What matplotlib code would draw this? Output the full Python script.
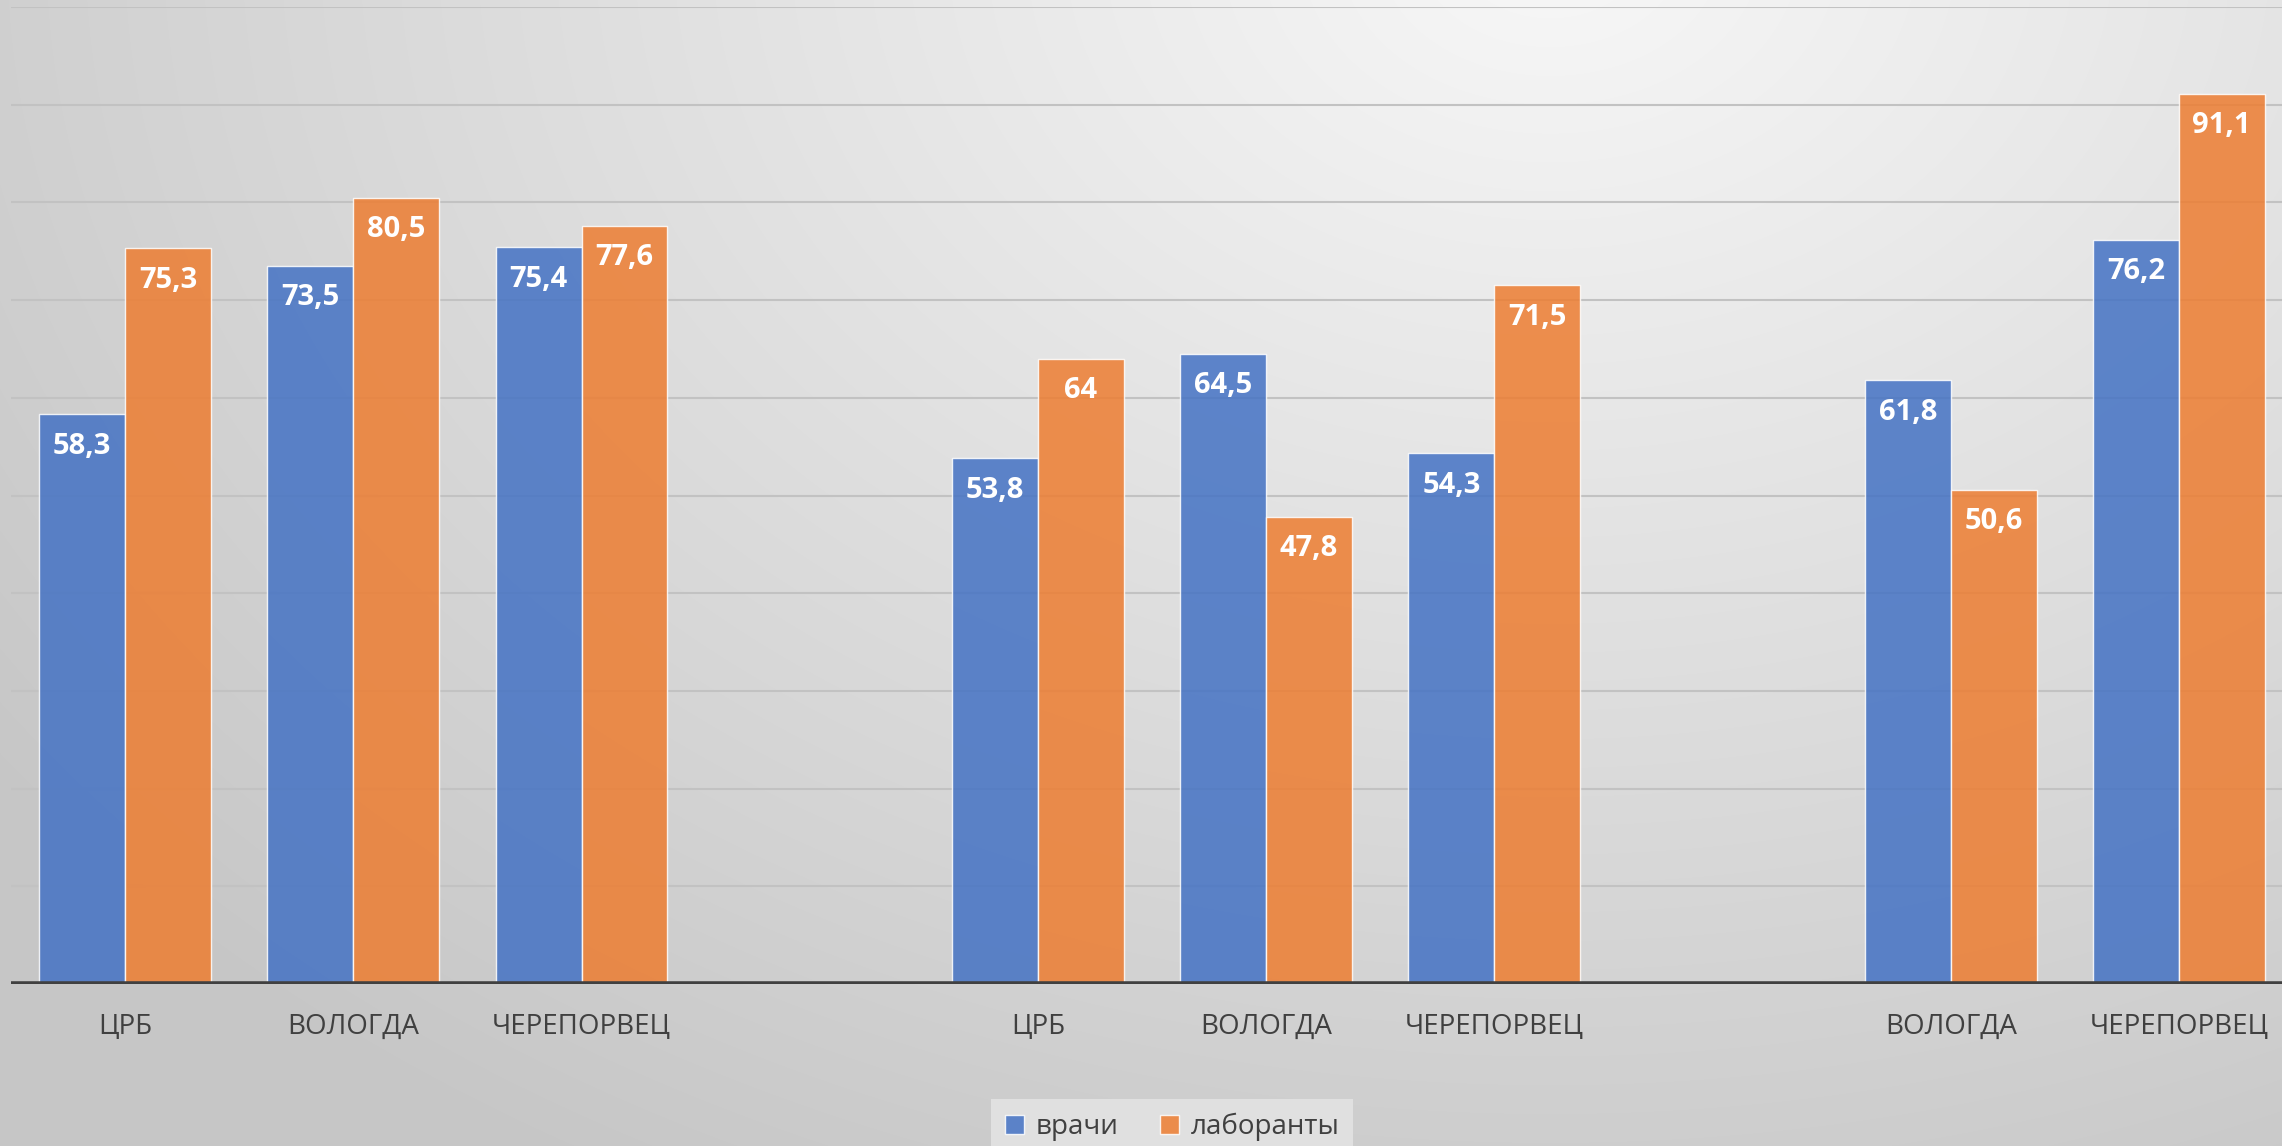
import matplotlib.pyplot as plt
import numpy as np

categorias = ['ЦРБ', 'ВОЛОГДА', 'ЧЕРЕПОРВЕЦ', '', 'ЦРБ', 'ВОЛОГДА', 'ЧЕРЕПОРВЕЦ', '', 'ВОЛОГДА', 'ЧЕРЕПОРВЕЦ']
vrachi = [58.3, 73.5, 75.4, np.nan, 53.8, 64.5, 54.3, np.nan, 61.8, 76.2]
laboranty = [75.3, 80.5, 77.6, np.nan, 64, 47.8, 71.5, np.nan, 50.6, 91.1]
series_names = ['врачи', 'лаборанты']

plt.rcParams['font.family'] = ['Open Sans', 'DejaVu Sans']

fig = plt.figure(figsize=(22.82, 11.46), dpi=100)

# fondo con degradado radial
bg = fig.add_axes([0, 0, 1, 1])
W, H = 2282, 1146
xx, yy = np.meshgrid(np.arange(W), np.arange(H))
t = np.sqrt(((xx - 1550) / 1700.0) ** 2 + ((yy + 50) / 1250.0) ** 2)
g = np.clip(0.97 - 0.17 * t, 0.78, 1)
bg.imshow(np.dstack([g, g, g]), aspect='auto', extent=[0, 1, 0, 1])
bg.axis('off')

ax = fig.add_axes([11 / W, 1 - 984 / H, (2293 - 11) / W, (984 - 7) / H])
ax.set_facecolor('none')

x = np.arange(len(categorias))
w = 0.376
ax.bar(x - w / 2, vrachi, w, color='#4472C4', alpha=0.85, edgecolor='white',
       linewidth=1, label=series_names[0], zorder=3)
ax.bar(x + w / 2, laboranty, w, color='#ED7D31', alpha=0.85, edgecolor='white',
       linewidth=1, label=series_names[1], zorder=3)

for xs, vals in [(x - w / 2, vrachi), (x + w / 2, laboranty)]:
    for xi, v in zip(xs, vals):
        if np.isnan(v):
            continue
        ax.annotate(f"{v:g}".replace('.', ','), (xi, v), xytext=(0, -23),
                    textcoords='offset points', ha='center', va='center',
                    color='white', fontsize=21, fontweight='bold', zorder=4)

ax.set_xlim(-0.5, 9.5)
ax.set_ylim(0, 100)
ax.set_yticks(np.arange(10, 101, 10))
ax.yaxis.grid(True, color='#c2c2c2', linewidth=1.5, zorder=0)
ax.axhline(0, color='#404040', linewidth=4, zorder=5)
ax.tick_params(axis='y', left=False, labelleft=False)
ax.set_xticks(x)
ax.set_xticklabels(categorias, fontsize=20, color='#404040')
ax.tick_params(axis='x', length=0, pad=21)
for s in ax.spines.values():
    s.set_visible(False)

leg = fig.legend(loc='upper center', bbox_to_anchor=(1172 / W, 1 - 1099 / H), ncol=2,
                 frameon=True, fontsize=20, handlelength=0.7, handleheight=0.7,
                 handletextpad=0.4, columnspacing=1.5, borderpad=0.5, borderaxespad=0,
                 fancybox=False)
leg.get_frame().set_facecolor('#e0e0e0')
leg.get_frame().set_edgecolor('none')
leg.get_frame().set_alpha(1)
for txt in leg.get_texts():
    txt.set_color('#404040')

plt.savefig('out.png', dpi=100)
